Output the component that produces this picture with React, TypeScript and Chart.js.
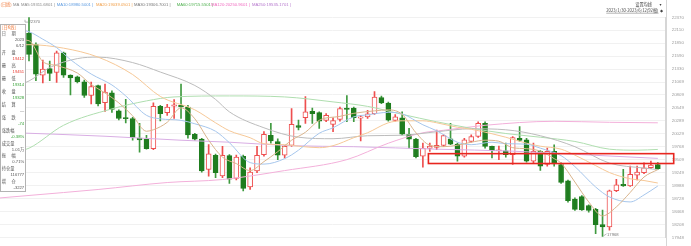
import React, { useEffect, useRef } from "react";
import { Chart, registerables } from "chart.js";

Chart.register(...registerables);

// ---------- candle data (2023/1/30 - 2023/6/12, 92 trading days) ----------
const opens = [
  22053, 21822, 21208, 21340, 21261, 21657, 21208, 21174, 21075, 20798,
  20996, 20653, 20851, 20489, 20357, 20337, 19941, 19921, 19729, 20580,
  20455, 20585, 20600, 20568, 20020, 19921, 19313, 19598, 19182, 19590,
  19130, 19578, 18964, 19281, 19610, 20000, 19875, 19598, 19796, 20192,
  20351, 20481, 20455, 20297, 20218, 20317, 20548, 20548, 20345, 20370,
  20436, 20758, 20647, 20297, 20351, 20020, 19921, 19578, 19736, 19756,
  19796, 19927, 19822, 19578, 19875, 19974, 20238, 19776, 19689, 19689,
  19610, 19940, 19907, 19479, 19677, 19412, 19677, 19412, 19083, 18719,
  18766, 18588, 18509, 18204, 18158, 18885, 19016, 18984, 19200, 19248,
  19346, 19412,
];
const highs = [
  22370, 21855, 21511, 21491, 21689, 21669, 21215, 21190, 21110, 21070,
  21010, 21030, 20890, 20510, 20720, 20360, 20240, 20000, 20650, 20600,
  20620, 20719, 21030, 20600, 20040, 19940, 19810, 19620, 19776, 19610,
  19600, 19600, 19346, 19776, 20073, 20240, 19927, 19796, 20535, 20303,
  20778, 20548, 20469, 20436, 20350, 20568, 20798, 20568, 20402, 20501,
  20877, 20786, 20667, 20416, 20469, 20138, 19940, 19842, 19842, 20105,
  20006, 20238, 19842, 19940, 20006, 20271, 20271, 19782, 19782, 19842,
  19974, 20172, 19940, 19842, 19690, 19742, 19808, 19446, 19100, 18740,
  18790, 18600, 18530, 18495, 18900, 19115, 19313, 19380, 19380, 19446,
  19479, 19451,
];
const lows = [
  21492, 21095, 21049, 21095, 21062, 21162, 20812, 21050, 20760, 20630,
  20590, 20480, 20460, 20310, 20250, 19900, 19660, 19720, 19710, 20290,
  20400, 20336, 20336, 19940, 19900, 19260, 19180, 19148, 19148, 19030,
  19100, 18880, 18910, 19248, 19578, 19842, 19511, 19544, 19776, 20105,
  20238, 20238, 20138, 20271, 20073, 20283, 20271, 20271, 19887, 20337,
  20416, 20634, 20283, 20283, 20006, 19742, 19544, 19360, 19677, 19709,
  19776, 19810, 19479, 19558, 19860, 19954, 19742, 19544, 19511, 19558,
  19412, 19875, 19460, 19446, 19293, 19380, 19380, 19030, 18654, 18490,
  18490, 18456, 18020, 17968, 18093, 18865, 18970, 18970, 19100, 19228,
  19330, 19314,
];
const closes = [
  21624, 21228, 21327, 21241, 21657, 21208, 21154, 21075, 20798, 20976,
  20628, 20865, 20521, 20337, 20331, 19955, 19907, 19729, 20580, 20436,
  20568, 20612, 20568, 20006, 19921, 19282, 19624, 19248, 19598, 19115,
  19560, 18930, 19261, 19598, 20020, 19887, 19598, 19776, 20218, 20158,
  20469, 20436, 20283, 20402, 20297, 20535, 20520, 20351, 20372, 20429,
  20766, 20647, 20303, 20370, 20020, 19921, 19570, 19742, 19782, 19796,
  19993, 19822, 19578, 19907, 19974, 20238, 19776, 19689, 19709, 19610,
  19954, 19895, 19479, 19677, 19380, 19677, 19426, 19050, 18687, 18509,
  18501, 18489, 18204, 18158, 18885, 19004, 18984, 19214, 19260, 19346,
  19402, 19328,
];

// ---------- moving averages (candle index, value) ----------
const ma5X = [-4.2, 0, 2, 4, 7, 9, 11, 13, 15, 17, 18, 20, 22, 24, 26, 28, 30, 32, 34, 36, 38, 40, 42, 45, 47, 50, 52, 54, 56, 58, 60, 62, 64, 66, 68, 70, 72, 74, 76, 77, 79, 81, 83, 85, 87, 89, 91];
const ma5V = [21950, 21900, 21480, 21400, 21250, 21020, 20850, 20650, 20390, 20080, 20110, 20260, 20550, 20330, 19900, 19560, 19430, 19290, 19470, 19670, 19900, 20060, 20300, 20380, 20440, 20490, 20510, 20420, 20050, 19800, 19770, 19800, 19860, 19900, 19880, 19750, 19730, 19680, 19530, 19440, 19060, 18660, 18380, 18560, 18850, 19160, 19310];
const ma10X = [-4.2, 0, 2, 4, 6, 9, 12, 14, 17, 19, 22, 24, 27, 29, 32, 34, 37, 39, 42, 44, 47, 49, 52, 54, 57, 59, 62, 64, 67, 69, 72, 74, 77, 79, 82, 84, 87, 89, 91];
const ma10V = [22180, 22080, 21930, 21760, 21520, 21230, 21010, 20790, 20400, 20330, 20300, 20230, 20080, 19850, 19450, 19420, 19530, 19700, 20040, 20150, 20370, 20410, 20460, 20430, 20210, 20090, 19860, 19810, 19860, 19830, 19820, 19740, 19590, 19370, 18960, 18760, 18660, 18800, 18980];
const ma20X = [-4.2, 0, 5, 10, 15, 19, 24, 27, 29, 32, 34, 37, 39, 42, 44, 47, 49, 52, 54, 57, 59, 62, 64, 67, 69, 72, 74, 77, 79, 82, 84, 87, 89, 91];
const ma20V = [21800, 21820, 21750, 21570, 21220, 20780, 20510, 20250, 20090, 19950, 19830, 19810, 19780, 19750, 19790, 19950, 20050, 20250, 20290, 20290, 20250, 20160, 20120, 20030, 19960, 19840, 19780, 19720, 19600, 19390, 19250, 19125, 19090, 19040];
const ma30X = [-4.2, 0, 3, 7, 10, 15, 19, 24, 27, 29, 34, 39, 44, 49, 54, 59, 64, 69, 74, 79, 84, 89, 91];
const ma30V = [20880, 21090, 21360, 21540, 21570, 21460, 21270, 21000, 20720, 20470, 20150, 19960, 19930, 19990, 20000, 20070, 20130, 20110, 19990, 19770, 19440, 19340, 19310];
const ma60X = [-4.2, 0, 5, 12, 17, 21, 29, 37, 44, 49, 54, 59, 64, 69, 74, 79, 84, 88, 91];
const ma60V = [19590, 19740, 20200, 20530, 20690, 20770, 20790, 20770, 20670, 20580, 20420, 20270, 20140, 20035, 19960, 19875, 19720, 19700, 19715];
const ma120X = [-4.2, 0, 10, 20, 28, 37, 46, 52, 57, 60, 66, 76, 84, 91];
const ma120V = [18740, 18790, 18910, 19050, 19110, 19290, 19510, 19840, 20050, 20100, 20200, 20280, 20260, 20250];
const ma250X = [-4.2, 0, 11, 22, 29, 38, 47, 59, 70, 80, 91];
const ma250V = [20060, 20040, 19980, 19900, 19860, 19790, 19770, 19720, 19680, 19610, 19535];

const maNames = ["MA5", "MA10", "MA20", "MA30", "MA60", "MA120", "MA250"];
const maValues = ["19311.6801", "18980.5001", "19039.0501", "19306.7001", "19715.5501", "20250.9601", "19535.1701"];

// ---------- axis ----------
const yTicks = [22370, 22110, 21850, 21590, 21330, 21069, 20809, 20549, 20289, 20029, 19768, 19509, 19249, 18988, 18728, 18468, 18208, 17948];

// ---------- info panel ----------
const infoTitle = "[日K线]";
const infoRows: [string, string][] = [
  ["日期", "label"], ["2023", "val"], ["6/12", "val"],
  ["开盘", "label"], ["19412", "up"],
  ["最高", "label"], ["19451", "up"],
  ["最低", "label"], ["19314", "down"],
  ["收盘", "label"], ["19328", "down"],
  ["结算", "label"], ["—", "val"],
  ["涨跌", "label"], ["-74", "down"],
  ["涨跌幅", "label"], ["-0.38%", "down"],
  ["成交量", "label"], ["1.01万", "val"],
  ["振幅", "label"], ["0.71%", "val"],
  ["持仓量", "label"], ["116777", "val"],
  ["增仓", "label"], ["-3227", "val"],
];

// highlighted region (candle index range, price range)
const markFrom = 57.8;
const markTo = 93.3;
const markHigh = 19630;
const markLow = 19432;

const rangeText = "2023/1/30-2023/6/12(92根)";
const settingText = "设置均线";

// ---------- styles ----------
const UP = "#ee4f4f";
const DOWN = "#1f7d1f";
const DOWN_WICK = "#3f9a3f";
const lineColors = ["#d9b48c", "#a6c6ec", "#f6c897", "#bcbcbc", "#afdeaf", "#f3b0da", "#d9aee4"];
const legendColors = ["#8a8a8a", "#5d9be0", "#f0a04c", "#777777", "#4fb04f", "#f06cc0", "#b475cc"];
const legendStarts = [21, 56.7, 96, 134, 176.7, 211, 252];
const FONT = '"Liberation Sans", Arial, "Noto Sans CJK SC", sans-serif';
const CJK = '"Noto Sans CJK SC", "Liberation Sans", sans-serif';

const maSeries = [
  [ma5X, ma5V], [ma10X, ma10V], [ma20X, ma20V], [ma30X, ma30V],
  [ma60X, ma60V], [ma120X, ma120V], [ma250X, ma250V],
];

const isUp = (i: number) => closes[i] >= opens[i];

const overlay = {
  id: "overlay",
  afterDraw(chart: any) {
    const { ctx, scales, chartArea } = chart;
    const xs = scales.x;
    const ys = scales.y;
    ctx.save();

    // axis line full height
    ctx.strokeStyle = "#d6d6d6";
    ctx.lineWidth = 1;
    ctx.beginPath();
    ctx.moveTo(Math.round(chartArea.right) + 0.5, 0);
    ctx.lineTo(Math.round(chartArea.right) + 0.5, chart.height);
    ctx.stroke();

    // red highlight rectangle
    const bx1 = xs.getPixelForValue(markFrom);
    const bx2 = xs.getPixelForValue(markTo);
    const by1 = ys.getPixelForValue(markHigh);
    const by2 = ys.getPixelForValue(markLow);
    ctx.strokeStyle = "#e8261f";
    ctx.lineWidth = 1.6;
    ctx.strokeRect(bx1, by1, bx2 - bx1, by2 - by1);

    // max / min markers
    let hi = 0;
    let lo = 0;
    highs.forEach((h, i) => { if (h > highs[hi]) hi = i; });
    lows.forEach((l, i) => { if (l < lows[lo]) lo = i; });
    ctx.font = `4.2px ${FONT}`;
    ctx.textBaseline = "middle";
    ctx.fillStyle = "#777";
    ctx.strokeStyle = "#999";
    ctx.lineWidth = 0.7;
    const hx = xs.getPixelForValue(hi);
    const hy = ys.getPixelForValue(highs[hi]);
    ctx.beginPath();
    ctx.moveTo(hx - 4, hy + 2.5);
    ctx.lineTo(hx - 4, hy + 4.8);
    ctx.lineTo(hx - 1, hy + 4.8);
    ctx.stroke();
    ctx.textAlign = "left";
    ctx.fillText(String(highs[hi]), hx - 0.5, hy + 4.8);
    const lx = xs.getPixelForValue(lo);
    const ly = ys.getPixelForValue(lows[lo]);
    ctx.beginPath();
    ctx.moveTo(lx + 1, ly - 0.5);
    ctx.lineTo(lx + 4, ly - 2.5);
    ctx.stroke();
    ctx.fillText(String(lows[lo]), lx + 4.5, ly - 2);

    // info panel
    ctx.fillStyle = "#ffffff";
    ctx.fillRect(0.5, 24.5, 25, 167);
    ctx.strokeStyle = "#b3b3b3";
    ctx.lineWidth = 1;
    ctx.strokeRect(0.5, 24.5, 25, 167);
    ctx.font = `4.2px ${CJK}`;
    ctx.fillStyle = "#f0793a";
    ctx.textAlign = "left";
    ctx.fillText(infoTitle, 2, 27.8);
    infoRows.forEach(([text, kind], k) => {
      const y = 33.3 + k * 6.45;
      if (kind === "label") {
        ctx.fillStyle = "#555";
        ctx.font = `4.2px ${CJK}`;
        ctx.textAlign = "left";
        if (text.length === 2) {
          ctx.fillText(text[0], 1.8, y);
          ctx.fillText(text[1], 11.4, y);
        } else {
          ctx.fillText(text, 1.8, y);
        }
      } else {
        ctx.fillStyle = kind === "up" ? "#e8382f" : kind === "down" ? "#2f9f2f" : "#555";
        ctx.font = `4.2px ${FONT}`;
        ctx.textAlign = "right";
        ctx.fillText(text, 24.2, y);
      }
    });

    // top legend
    ctx.textAlign = "left";
    ctx.textBaseline = "middle";
    const ly0 = 4.6;
    ctx.font = `4.2px ${CJK}`;
    ctx.fillStyle = "#f0793a";
    ctx.fillText("(日线)", 0.5, ly0);
    ctx.font = `4.2px ${FONT}`;
    ctx.fillStyle = "#888";
    ctx.fillText("MA", 13, ly0);
    maNames.forEach((n, k) => {
      const t = `${n}:${maValues[k]} |`;
      ctx.fillStyle = legendColors[k];
      ctx.fillText(t, legendStarts[k], ly0);
    });

    // top-right controls
    ctx.fillStyle = "#444";
    ctx.textAlign = "right";
    ctx.font = `4.2px ${CJK}`;
    ctx.fillText(settingText, 652, 4.7);
    ctx.fillText(rangeText, 658.5, 10.7);
    const rw = ctx.measureText(rangeText).width;
    ctx.strokeStyle = "#666";
    ctx.lineWidth = 0.5;
    ctx.beginPath();
    ctx.moveTo(658.5 - rw, 13.2);
    ctx.lineTo(658.5, 13.2);
    ctx.stroke();
    ctx.textAlign = "left";
    ctx.font = `4px "DejaVu Sans", sans-serif`;
    ctx.fillText("▾", 659.5, 4.7);
    ctx.fillText("◆", 660, 10.7);

    ctx.restore();
  },
};

export default function App() {
  const ref = useRef<HTMLCanvasElement | null>(null);

  useEffect(() => {
    if (!ref.current) return;
    const bodyData = opens.map((o, i) => ({ x: i, y: [o, closes[i]] }));
    const wickData = opens.map((_, i) => ({ x: i, y: [lows[i], highs[i]] }));

    const lineSets = maSeries.map(([xsArr, vsArr], k) => ({
      type: "line" as const,
      label: maNames[k],
      data: xsArr.map((xv, j) => ({ x: xv, y: vsArr[j] })),
      borderColor: lineColors[k],
      borderWidth: 1,
      pointRadius: 0,
      fill: false,
      cubicInterpolationMode: "monotone" as const,
      order: 0,
    }));

    const chart = new Chart(ref.current, {
      type: "bar",
      data: {
        datasets: [
          ...lineSets,
          {
            type: "bar",
            label: "body",
            data: bodyData as any,
            backgroundColor: opens.map((_, i) => (isUp(i) ? "#ffffff" : DOWN)),
            borderColor: opens.map((_, i) => (isUp(i) ? UP : DOWN)),
            borderWidth: 1,
            borderSkipped: false,
            barThickness: 5,
            grouped: false,
            order: 1,
          } as any,
          {
            type: "bar",
            label: "wick",
            data: wickData as any,
            backgroundColor: opens.map((_, i) => (isUp(i) ? UP : DOWN_WICK)),
            borderWidth: 0,
            barThickness: 1,
            grouped: false,
            order: 2,
          } as any,
        ],
      },
      options: {
        responsive: false,
        animation: false,
        events: [],
        layout: { padding: { top: 17.3, bottom: 5.3, left: 0, right: 0 } },
        scales: {
          x: {
            type: "linear",
            display: false,
            offset: false,
            min: -4.197,
            max: 92.14,
          },
          y: {
            position: "right",
            min: 17948,
            max: 22370,
            afterBuildTicks: (scale: any) => {
              scale.ticks = yTicks.map((v) => ({ value: v }));
            },
            afterFit: (scale: any) => {
              scale.width = 25.3;
            },
            grid: { color: "#f1f1f1", drawTicks: false, lineWidth: 1 },
            border: { display: true, color: "#d6d6d6" },
            ticks: {
              padding: 6,
              color: "#9c9c9c",
              autoSkip: false,
              font: { size: 4.4, family: FONT },
              callback: (v: any) => String(v),
            },
          },
        },
        plugins: {
          legend: { display: false },
          tooltip: { enabled: false },
        },
      } as any,
      plugins: [overlay],
    } as any);
    return () => chart.destroy();
  }, []);

  return (
    <div style={{ position: "fixed", left: 0, top: 0, width: 691, height: 246, background: "#ffffff" }}>
      <canvas ref={ref} width={691} height={246} style={{ display: "block", width: 691, height: 246 }} />
    </div>
  );
}
